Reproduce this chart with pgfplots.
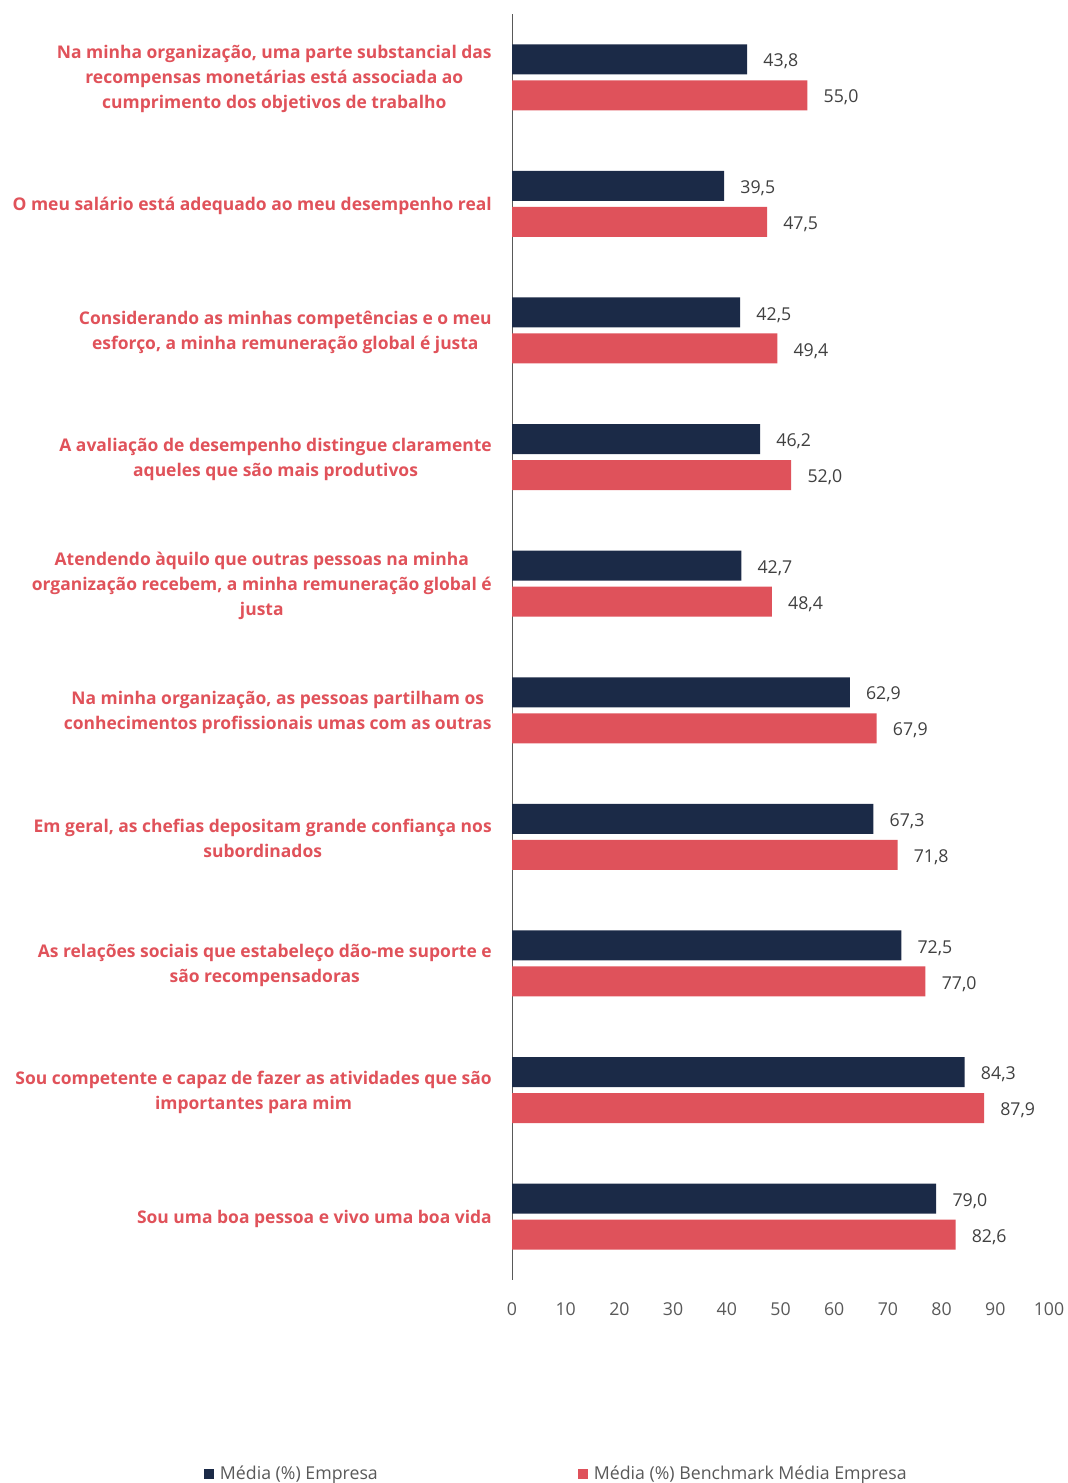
\documentclass[border=0pt]{standalone}
\usepackage{pgfplots}
\pgfplotsset{compat=1.18}
\usepackage{pgfplotstable}
\usepackage{fontspec}
\setmainfont{Open Sans}

\definecolor{navy}{HTML}{1B2A47}
\definecolor{benchred}{HTML}{DF525B}
\definecolor{labelred}{HTML}{E0525A}
\definecolor{txtgray}{HTML}{404040}
\definecolor{axgray}{HTML}{595959}

% y = position from the bottom (9 = top category)
\pgfplotstableread{
y emp bench
9 43.8 55.0
8 39.5 47.5
7 42.5 49.4
6 46.2 52.0
5 42.7 48.4
4 62.9 67.9
3 67.3 71.8
2 72.5 77.0
1 84.3 87.9
0 79.0 82.6
}\datatable

\begin{document}
\begin{tikzpicture}
\path[use as bounding box] (0,0) rectangle (800.25pt,1112.25pt);
\begin{axis}[
  at={(384pt,152.25pt)}, anchor=south west,
  scale only axis,
  width=402.75pt, height=949.5pt,
  xbar, bar width=22.5pt,
  xmin=0, xmax=100, ymin=-0.5, ymax=9.5,
  xtick={0,10,...,100},
  ytick={0,...,9},
  yticklabels={
    {Sou uma boa pessoa e vivo uma boa vida},
    {Sou competente e capaz de fazer as atividades que são\\importantes para mim},
    {As relações sociais que estabeleço dão-me suporte e\\são recompensadoras},
    {Em geral, as chefias depositam grande confiança nos\\subordinados},
    {Na minha organização, as pessoas partilham os\\conhecimentos profissionais umas com as outras},
    {Atendendo àquilo que outras pessoas na minha\\organização recebem, a minha remuneração global é\\justa},
    {A avaliação de desempenho distingue claramente\\aqueles que são mais produtivos},
    {Considerando as minhas competências e o meu\\esforço, a minha remuneração global é justa},
    {O meu salário está adequado ao meu desempenho real},
    {Na minha organização, uma parte substancial das\\recompensas monetárias está associada ao\\cumprimento dos objetivos de trabalho}
  },
  major tick length=0pt,
  axis lines=left,
  axis line style={-},
  x axis line style={draw=none},
  y axis line style={draw=axgray, line width=0.75pt},
  xticklabel style={font=\fontsize{13.3}{16}\selectfont, text=axgray, anchor=center, yshift=-22pt},
  yticklabel style={font=\fontsize{13.1}{18.75}\selectfont\bfseries, text=labelred, align=center, anchor=east, inner sep=0pt, xshift=-15pt, yshift=-1.5pt},
  /pgf/number format/assume math mode=true,
  nodes near coords,
  nodes near coords style={font=\fontsize{13.3}{16}\selectfont, text=txtgray, anchor=west, inner sep=0pt, xshift=12pt, yshift=-1.8pt,
    /pgf/number format/.cd, fixed, fixed zerofill, precision=1, use comma, assume math mode=true},
  clip=false,
  legend image code/.code={\fill[#1] (0pt,-3.75pt) rectangle (7.5pt,3.75pt);},
  legend columns=2,
  legend style={at={(rel axis cs:-0.5736,-0.1532)}, anchor=west, draw=none, fill=none,
    inner sep=0pt, outer sep=0pt,
    font=\fontsize{13.3}{16}\selectfont, text=axgray,
    nodes={inner sep=0pt},
    /tikz/every odd column/.append style={column sep=4.5pt},
    /tikz/every even column/.append style={column sep=150pt}},
]
\addplot[draw=none, fill=navy, bar shift=13.5pt] table[x=emp, y=y] {\datatable};
\addplot[draw=none, fill=benchred, bar shift=-13.5pt] table[x=bench, y=y] {\datatable};
\legend{Média (\%) Empresa, Média (\%) Benchmark Média Empresa}
\end{axis}
\end{tikzpicture}
\end{document}
